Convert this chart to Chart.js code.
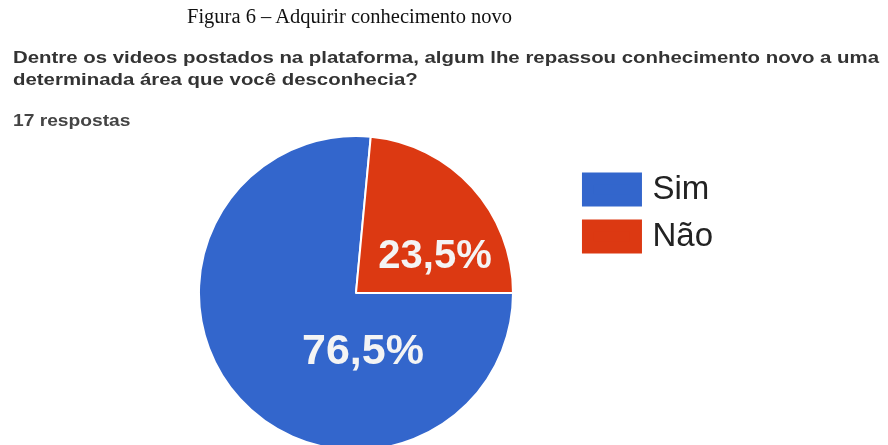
<!DOCTYPE html>
<html>
<head>
<meta charset="utf-8">
<script src="https://cdn.jsdelivr.net/npm/chart.js@4"></script>
<style>
  html, body { margin: 0; padding: 0; background: #ffffff; width: 888px; height: 445px; overflow: hidden; }
  #wrap { position: relative; width: 888px; height: 445px; }
  #chart { position: absolute; left: 0; top: 0; }
  .t { position: absolute; white-space: nowrap; transform-origin: 0 0; }
  #fig { left: 187px; top: 5px; font-family: "Liberation Serif", "Times New Roman", serif; font-size: 20.5px; color: #111; }
  .q { font-family: "Liberation Sans", Arial, sans-serif; font-weight: bold; color: #333; transform: scaleX(1.2); }
  #q1 { left: 13px; top: 48px; font-size: 17px; }
  #q2 { left: 13px; top: 70px; font-size: 17px; }
  #resp { left: 13px; top: 112px; font-size: 16px; color: #444; }
</style>
</head>
<body>
<div id="wrap">
  <canvas id="chart" width="888" height="445"></canvas>
  <div class="t" id="fig">Figura 6 – Adquirir conhecimento novo</div>
  <div class="t q" id="q1">Dentre os videos postados na plataforma, algum lhe repassou conhecimento novo a uma</div>
  <div class="t q" id="q2">determinada área que você desconhecia?</div>
  <div class="t q" id="resp">17 respostas</div>
</div>
<script>
const categories = ["Sim", "Não"];
const percentages = [76.5, 23.5];
const sliceColors = ["#3366CC", "#DC3912"];

const sliceLabels = {
  id: 'sliceLabels',
  afterDatasetsDraw(chart, args, opts) {
    const ctx = chart.ctx;
    const meta = chart.getDatasetMeta(0);
    const values = chart.data.datasets[0].data;
    meta.data.forEach((arc, i) => {
      const p = opts.place[i];
      const a = (p.angle - 90) * Math.PI / 180;
      const r = arc.outerRadius * p.dist;
      const x = arc.x + Math.cos(a) * r;
      const y = arc.y + Math.sin(a) * r;
      ctx.save();
      ctx.fillStyle = opts.color;
      ctx.font = 'bold ' + p.size + 'px "Liberation Sans", Arial, sans-serif';
      ctx.textAlign = 'center';
      ctx.textBaseline = 'middle';
      ctx.fillText(values[i].toFixed(1).replace('.', ',') + '%', x, y);
      ctx.restore();
    });
  }
};

new Chart(document.getElementById('chart'), {
  type: 'pie',
  data: {
    labels: categories,
    datasets: [{
      data: percentages,
      backgroundColor: sliceColors,
      borderColor: '#ffffff',
      borderWidth: 2,
      clip: false
    }]
  },
  plugins: [sliceLabels],
  options: {
    responsive: false,
    animation: false,
    rotation: 90,
    radius: 157,
    layout: { padding: { left: 138, right: 165, top: 159, bottom: 18 } },
    plugins: {
      tooltip: { enabled: false },
      legend: {
        position: 'right',
        align: 'start',
        labels: {
          boxWidth: 48,
          boxHeight: 22,
          padding: 14,
          color: '#222',
          font: { family: '"Liberation Sans", Arial, sans-serif', size: 33 },
          generateLabels(chart) {
            const items = Chart.overrides.pie.plugins.legend.labels.generateLabels(chart);
            items.forEach(it => { it.strokeStyle = it.fillStyle; it.lineWidth = 12; });
            return items;
          }
        }
      },
      sliceLabels: {
        color: '#f4f4f4',
        place: [
          { angle: 173.3, dist: 0.38, size: 43 },
          { angle: 65.5, dist: 0.553, size: 40 }
        ]
      }
    }
  }
});
</script>
</body>
</html>
